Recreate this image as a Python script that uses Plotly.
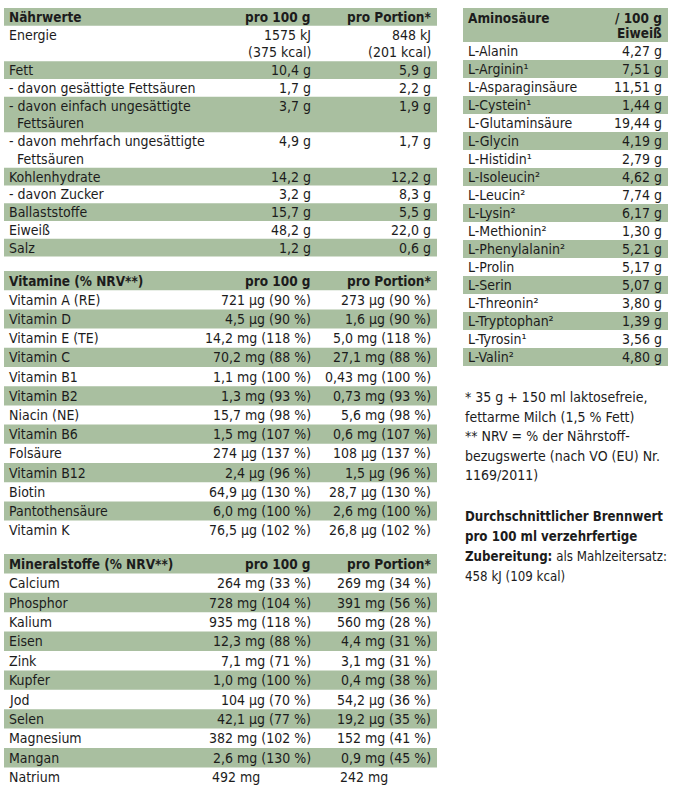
import plotly.graph_objects as go

# ---------------- data ----------------
naehr_labels = ["Energie", "Fett", "- davon gesättigte Fettsäuren",
                "- davon einfach ungesättigte\n  Fettsäuren",
                "- davon mehrfach ungesättigte\n  Fettsäuren",
                "Kohlenhydrate", "- davon Zucker", "Ballaststoffe", "Eiweiß", "Salz"]
naehr_100 = ["1575 kJ\n(375 kcal)", "10,4 g", "1,7 g", "3,7 g", "4,9 g",
             "14,2 g", "3,2 g", "15,7 g", "48,2 g", "1,2 g"]
naehr_portion = ["848 kJ\n(201 kcal)", "5,9 g", "2,2 g", "1,9 g", "1,7 g",
                 "12,2 g", "8,3 g", "5,5 g", "22,0 g", "0,6 g"]

vit_labels = ["Vitamin A (RE)", "Vitamin D", "Vitamin E (TE)", "Vitamin C", "Vitamin B1",
              "Vitamin B2", "Niacin (NE)", "Vitamin B6", "Folsäure", "Vitamin B12",
              "Biotin", "Pantothensäure", "Vitamin K"]
vit_100 = ["721 µg (90 %)", "4,5 µg (90 %)", "14,2 mg (118 %)", "70,2 mg (88 %)",
           "1,1 mg (100 %)", "1,3 mg (93 %)", "15,7 mg (98 %)", "1,5 mg (107 %)",
           "274 µg (137 %)", "2,4 µg (96 %)", "64,9 µg (130 %)", "6,0 mg (100 %)",
           "76,5 µg (102 %)"]
vit_portion = ["273 µg (90 %)", "1,6 µg (90 %)", "5,0 mg (118 %)", "27,1 mg (88 %)",
               "0,43 mg (100 %)", "0,73 mg (93 %)", "5,6 mg (98 %)", "0,6 mg (107 %)",
               "108 µg (137 %)", "1,5 µg (96 %)", "28,7 µg (130 %)", "2,6 mg (100 %)",
               "26,8 µg (102 %)"]

min_labels = ["Calcium", "Phosphor", "Kalium", "Eisen", "Zink", "Kupfer", "Jod",
              "Selen", "Magnesium", "Mangan", "Natrium"]
min_100 = ["264 mg (33 %)", "728 mg (104 %)", "935 mg (118 %)", "12,3 mg (88 %)",
           "7,1 mg (71 %)", "1,0 mg (100 %)", "104 µg (70 %)", "42,1 µg (77 %)",
           "382 mg (102 %)", "2,6 mg (130 %)", "492 mg"]
min_portion = ["269 mg (34 %)", "391 mg (56 %)", "560 mg (28 %)", "4,4 mg (31 %)",
               "3,1 mg (31 %)", "0,4 mg (38 %)", "54,2 µg (36 %)", "19,2 µg (35 %)",
               "152 mg (41 %)", "0,9 mg (45 %)", "242 mg"]

amino_labels = ["L-Alanin", "L-Arginin¹", "L-Asparaginsäure", "L-Cystein¹",
                "L-Glutaminsäure", "L-Glycin", "L-Histidin¹", "L-Isoleucin²",
                "L-Leucin²", "L-Lysin²", "L-Methionin²", "L-Phenylalanin²", "L-Prolin",
                "L-Serin", "L-Threonin²", "L-Tryptophan²", "L-Tyrosin¹", "L-Valin²"]
amino_values = ["4,27 g", "7,51 g", "11,51 g", "1,44 g", "19,44 g", "4,19 g", "2,79 g",
                "4,62 g", "7,74 g", "6,17 g", "1,30 g", "5,21 g", "5,17 g", "5,07 g",
                "3,80 g", "1,39 g", "3,56 g", "4,80 g"]

headers = [["Nährwerte", "pro 100 g", "pro Portion*"],
           ["Vitamine (% NRV**)", "pro 100 g", "pro Portion*"],
           ["Mineralstoffe (% NRV**)", "pro 100 g", "pro Portion*"]]
amino_header = ["Aminosäure", "/ 100 g\nEiweiß"]

footnotes = ["* 35 g + 150 ml laktosefreie,", "fettarme Milch (1,5 % Fett)",
             "** NRV = % der Nährstoff-", "bezugswerte (nach VO (EU) Nr.",
             "1169/2011)"]
brennwert = ["<b>Durchschnittlicher Brennwert</b>", "<b>pro 100 ml verzehrfertige</b>",
             "<b>Zubereitung:</b> als Mahlzeitersatz:", "458 kJ (109 kcal)"]

# ---------------- styling ----------------
BAND = "#a9bfa0"
TXT = "#1c1c1c"
FONT = "DejaVu Sans Condensed, Liberation Sans Narrow, sans-serif"
FS = 14
FSB = 13.5

fig = go.Figure()
shapes = []
annos = []


def text(x, y, s, anchor="left", bold=False, size=None):
    if size is None:
        size = FSB if bold else FS
    if bold:
        s = "<b>" + s + "</b>"
    annos.append(dict(x=x, y=y, text=s, xref="x", yref="y", showarrow=False,
                      xanchor=anchor, yanchor="middle",
                      font=dict(family=FONT, size=size, color=TXT)))


def band(x0, x1, y0, y1):
    shapes.append(dict(type="rect", xref="x", yref="y", x0=x0, x1=x1, y0=y0, y1=y1,
                       fillcolor=BAND, line=dict(width=0), layer="below"))


# left table geometry
LX0, LX1 = 4, 437
LABX, C1R, C2R = 7, 313, 433


def section(y0, lh, header, labels, v1, v2, left_rows=()):
    band(LX0, LX1, y0, y0 + lh)
    yc = y0 + lh / 2
    text(LABX, yc, header[0], bold=True)
    text(C1R, yc, header[1], "right", bold=True)
    text(C2R, yc, header[2], "right", bold=True)
    y = y0 + lh
    for i, (lab, a, b) in enumerate(zip(labels, v1, v2)):
        ll = lab.split("\n")
        al = a.split("\n")
        bl = b.split("\n")
        n = max(len(ll), len(al), len(bl))
        if i % 2 == 1:
            band(LX0, LX1, y, y + n * lh)
        for k in range(n):
            yy = y + lh * k + lh / 2
            if k < len(ll):
                text(LABX, yy, ll[k].replace("  ", "&nbsp;&nbsp;"))
            if lab in left_rows:
                if k < len(al):
                    text(210, yy, al[k], "left")
                if k < len(bl):
                    text(338, yy, bl[k], "left")
            else:
                if k < len(al):
                    text(C1R, yy, al[k], "right")
                if k < len(bl):
                    text(C2R, yy, bl[k], "right")
        y += n * lh
    return y


section(8, 17.75, headers[0], naehr_labels, naehr_100, naehr_portion)
section(271, 19.2, headers[1], vit_labels, vit_100, vit_portion)
section(554, 19.4, headers[2], min_labels, min_100, min_portion, left_rows=("Natrium",))

# amino acid table
RX0, RX1 = 463, 668
RLAB, RVAL = 466, 664
ALH = 18.0
band(RX0, RX1, 8, 42)
text(RLAB, 18, amino_header[0], bold=True)
hl = amino_header[1].split("\n")
text(RVAL, 18, hl[0], "right", bold=True)
text(RVAL, 33, hl[1], "right", bold=True)
y = 42
for i, (lab, val) in enumerate(zip(amino_labels, amino_values)):
    if i % 2 == 1:
        band(RX0, RX1, y, y + ALH)
    text(RLAB, y + ALH / 2, lab)
    text(RVAL, y + ALH / 2, val, "right")
    y += ALH

# footnotes
fy = 397
for i, s in enumerate(footnotes):
    text(463, fy + 19.5 * i, s)
by = 516.5
for i, s in enumerate(brennwert):
    text(463, by + 20 * i, s, size=13.2)

fig.update_layout(
    width=675, height=793,
    margin=dict(l=0, r=0, t=0, b=0),
    paper_bgcolor="white", plot_bgcolor="white",
    xaxis=dict(range=[0, 675], visible=False, fixedrange=True),
    yaxis=dict(range=[793, 0], visible=False, fixedrange=True),
    shapes=shapes, annotations=annos, showlegend=False,
)
fig.write_html("out.html", config={"displayModeBar": False},
               post_script="document.body.style.margin='0';document.body.style.overflow='hidden';")
